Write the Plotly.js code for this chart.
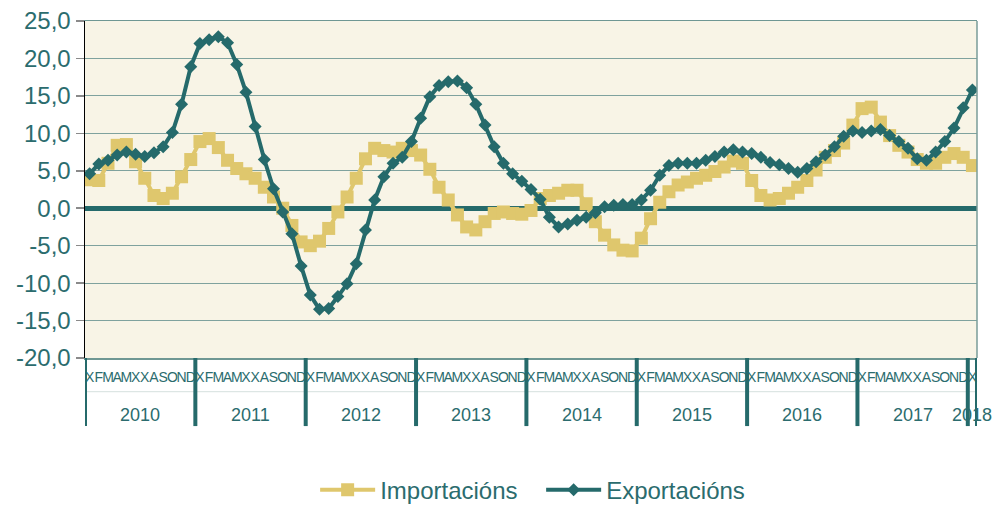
<!DOCTYPE html>
<html><head><meta charset="utf-8">
<script src="https://cdn.plot.ly/plotly-3.0.1.min.js"></script>
<style>html,body{margin:0;padding:0;background:#fff}</style>
</head><body><div id="chart" style="width:998px;height:509px"></div>
<script>
const years = [2010, 2011, 2012, 2013, 2014, 2015, 2016, 2017, 2018];
const monthLetters = ['X','F','M','A','M','X','X','A','S','O','N','D'];
const importacions = [
  3.8, 3.7, 6.0, 8.4, 8.5, 6.2, 4.0, 1.7, 1.3, 2.0, 4.2, 6.5,
  8.9, 9.3, 8.1, 6.4, 5.3, 4.6, 4.0, 2.8, 1.5, 0.0, -2.3, -4.5,
  -5.0, -4.4, -2.7, -0.5, 1.5, 4.0, 6.6, 8.0, 7.7, 7.5, 8.0, 7.7,
  7.1, 5.2, 2.8, 1.1, -0.9, -2.5, -2.9, -1.8, -0.7, -0.5, -0.7, -0.8,
  -0.3, 1.3, 1.7, 2.0, 2.4, 2.4, 0.6, -1.8, -3.6, -4.9, -5.6, -5.7,
  -4.0, -1.4, 0.8, 2.2, 3.1, 3.5, 4.0, 4.4, 4.9, 5.5, 6.3, 6.0,
  3.7, 1.7, 1.1, 1.3, 2.0, 2.8, 3.7, 5.1, 6.8, 7.7, 8.7, 11.1,
  13.3, 13.5, 11.5, 9.7, 8.4, 7.5, 6.5, 6.0, 6.0, 6.8, 7.3, 6.8,
  5.7
];
const exportacions = [
  4.6, 5.9, 6.4, 7.1, 7.5, 7.2, 6.9, 7.4, 8.2, 10.1, 13.9, 18.9,
  22.0, 22.5, 22.9, 22.1, 19.2, 15.5, 10.9, 6.5, 2.6, -0.5, -3.4, -7.7,
  -11.6, -13.5, -13.4, -11.8, -10.1, -7.4, -2.9, 1.1, 4.2, 6.0, 6.8, 8.9,
  12.0, 14.9, 16.4, 16.9, 17.0, 16.1, 13.9, 11.1, 8.2, 6.0, 4.6, 3.6,
  2.5, 1.2, -1.2, -2.5, -2.1, -1.6, -1.2, -0.6, 0.2, 0.4, 0.5, 0.5,
  1.1, 2.4, 4.4, 5.7, 6.0, 6.0, 6.0, 6.4, 6.9, 7.5, 7.8, 7.5,
  7.3, 6.8, 6.1, 5.8, 5.3, 4.8, 5.3, 6.2, 7.1, 8.2, 9.6, 10.3,
  10.1, 10.3, 10.5, 9.7, 8.9, 8.0, 6.6, 6.4, 7.5, 8.9, 10.7, 13.4,
  15.8
];
const yTicks = [-20, -15, -10, -5, 0, 5, 10, 15, 20, 25];
const yTickText = ['-20,0','-15,0','-10,0','-5,0','0,0','5,0','10,0','15,0','20,0','25,0'];

const TEAL = '#256a6b';
const GOLD = '#dfc76d';
const TXT = '#2b6c6e';

const cats = [], ticktext = [], yearOf = [];
years.forEach(y => monthLetters.forEach((m, k) => {
  if (cats.length < importacions.length) { cats.push(y + '-' + (k + 1)); ticktext.push(m); yearOf.push(y); }
}));

const traces = [
  { x: cats, y: importacions, name: 'Importacións', type: 'scatter', mode: 'lines+markers',
    line: { color: GOLD, width: 4 }, marker: { symbol: 'square', size: 13, color: GOLD } },
  { x: cats, y: exportacions, name: 'Exportacións', type: 'scatter', mode: 'lines+markers',
    line: { color: TEAL, width: 4 }, marker: { symbol: 'diamond', size: 10, color: TEAL } }
];

const shapes = [];
const annotations = [];
years.forEach(y => {
  const idx = yearOf.map((v, i) => v === y ? i : -1).filter(i => i >= 0);
  const first = idx[0], last = idx[idx.length - 1];
  shapes.push({ type: 'line', xref: 'x', yref: 'paper', x0: first - 0.5, x1: first - 0.5, y0: 0, y1: -0.202,
    line: { color: TEAL, width: 4 } });
  annotations.push({ xref: 'x', yref: 'paper', x: (first + last) / 2, y: -0.168, yanchor: 'middle', xanchor: 'center',
    text: String(y), showarrow: false,
    font: { size: 18, color: TXT, family: 'Liberation Sans, Arial, sans-serif' } });
});
shapes.push({ type: 'line', xref: 'x', yref: 'paper', x0: cats.length - 0.5, x1: cats.length - 0.5, y0: 0, y1: -0.202,
  line: { color: TEAL, width: 4 } });
shapes.push({ type: 'line', xref: 'paper', yref: 'paper', x0: 0, x1: 1, y0: -0.1, y1: -0.1,
  line: { color: '#d5e0de', width: 1 }, layer: 'below' });
shapes.push({ type: 'line', xref: 'paper', yref: 'paper', x0: 1, x1: 1, y0: 0, y1: 1,
  line: { color: '#7a9c98', width: 1.5 } });

const layout = {
  width: 998, height: 509,
  margin: { l: 85, r: 21, t: 21, b: 151, autoexpand: false },
  paper_bgcolor: '#ffffff', plot_bgcolor: '#f8f4e6',
  font: { family: 'Liberation Sans, Arial, sans-serif', color: TXT },
  showlegend: true,
  legend: { orientation: 'h', x: 0.258, xanchor: 'left', y: -0.392, yanchor: 'middle',
    font: { size: 24, color: TXT }, itemwidth: 55, entrywidth: 156, entrywidthmode: 'pixels',
    bgcolor: 'rgba(0,0,0,0)' },
  xaxis: { type: 'category', categoryorder: 'array', categoryarray: cats,
    tickmode: 'array', tickvals: cats, ticktext: ticktext, tickangle: 0, ticklabelstandoff: 6,
    tickfont: { size: 14, color: TXT, family: 'Liberation Sans Narrow, Arial Narrow, Liberation Sans, sans-serif' },
    ticks: '', showgrid: false, showline: true, mirror: true, linecolor: '#6f9793', linewidth: 1.5,
    range: [-0.5, cats.length - 0.5], automargin: false, zeroline: false },
  yaxis: { range: [-20, 25], tickmode: 'array', tickvals: yTicks, ticktext: yTickText,
    tickfont: { size: 24, color: TXT }, ticks: 'outside', ticklen: 8, tickcolor: '#8a8a8a', tickwidth: 1.5,
    showgrid: true, gridcolor: '#7fa29e', gridwidth: 1,
    zeroline: true, zerolinecolor: TEAL, zerolinewidth: 5,
    showline: true, linecolor: '#000000', linewidth: 1.5, automargin: false },
  shapes: shapes,
  annotations: annotations
};

Plotly.newPlot('chart', traces, layout, { displayModeBar: false, staticPlot: true });
</script>
</body></html>
